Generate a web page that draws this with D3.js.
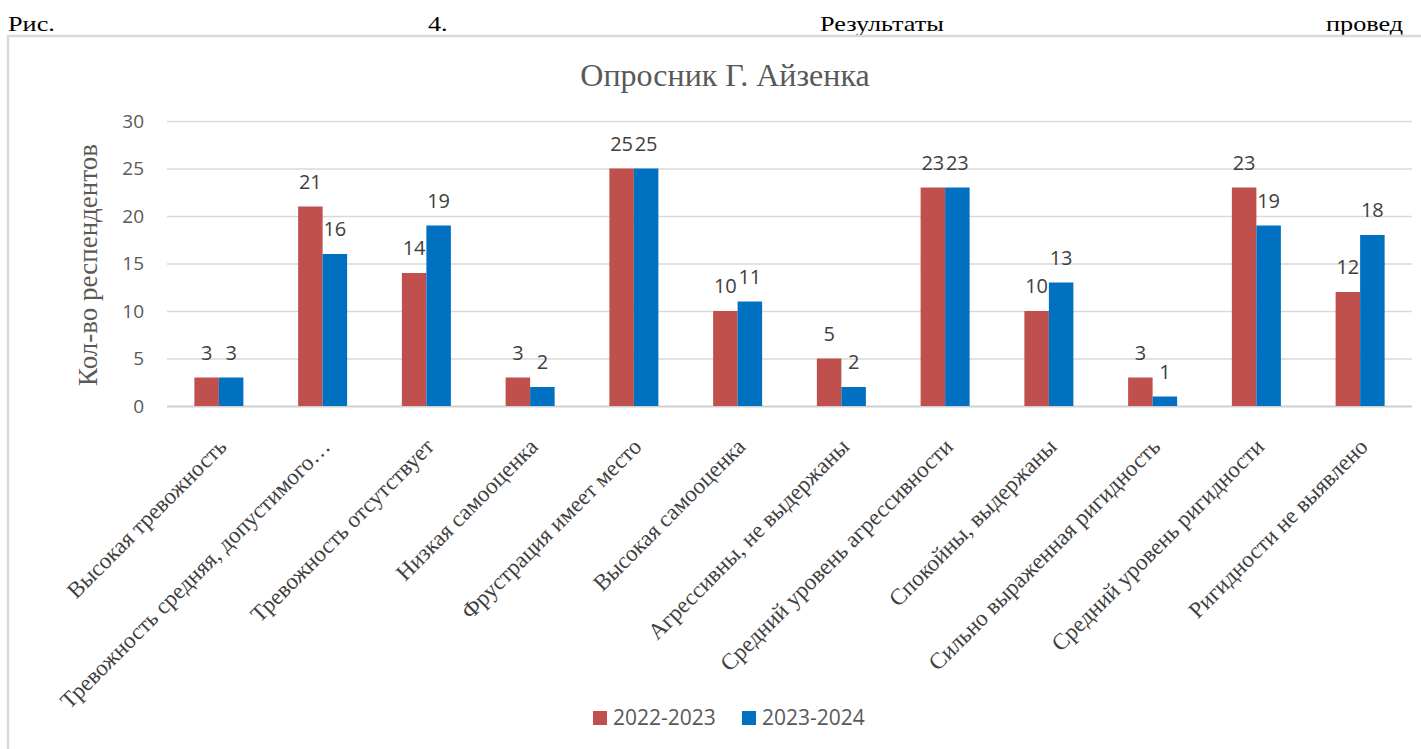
<!DOCTYPE html>
<html>
<head>
<meta charset="utf-8">
<script src="https://cdn.jsdelivr.net/npm/d3@7"></script>
<style>
  body { margin: 0; background: #fff; }
  svg { display: block; }
</style>
</head>
<body>
<script>
var categories = [
  'Высокая тревожность',
  'Тревожность средняя, допустимого…',
  'Тревожность отсутствует',
  'Низкая самооценка',
  'Фрустрация имеет место',
  'Высокая самооценка',
  'Агрессивны, не выдержаны',
  'Средний уровень агрессивности',
  'Спокойны, выдержаны',
  'Сильно выраженная ригидность',
  'Средний уровень ригидности',
  'Ригидности не выявлено'
];
var series = ['2022-2023', '2023-2024'];
var values2022 = [3, 21, 14, 3, 25, 10, 5, 23, 10, 3, 23, 12];
var values2023 = [3, 16, 19, 2, 25, 11, 2, 23, 13, 1, 19, 18];
var yTicks = [0, 5, 10, 15, 20, 25, 30];
var headerWords = ['Рис.', '4.', 'Результаты', 'провед'];

var colors = ['#C0504D', '#0070C0'];

var width = 1421,
    height = 749;

var svg = d3.select('body')
  .append('svg')
  .attr('width', width)
  .attr('height', height);

// header line of the document text (justified, slightly stretched)
var headerX = [8, 428, 820, 1326];
svg.selectAll('.hdr')
  .data(headerWords)
  .enter().append('text')
  .attr('transform', function(d, i) { return 'translate(' + headerX[i] + ',31) scale(1.25,1)'; })
  .style('font-family', '"Liberation Serif", serif')
  .style('font-size', '21px')
  .attr('fill', '#000')
  .text(function(d) { return d; });

// chart frame (only top and left edges are visible)
svg.append('line')
  .attr('x1', 7).attr('x2', width)
  .attr('y1', 36).attr('y2', 36)
  .attr('stroke', '#d9d9d9').attr('stroke-width', 2.5);
svg.append('line')
  .attr('x1', 8).attr('x2', 8)
  .attr('y1', 36).attr('y2', height)
  .attr('stroke', '#d9d9d9').attr('stroke-width', 2.5);

var plot = { left: 167, right: 1412, top: 121, bottom: 406 };

var x = d3.scaleBand()
  .domain(categories)
  .range([plot.left, plot.right]);

var x1 = d3.scaleBand()
  .domain(series)
  .range([0, 49]);

var y = d3.scaleLinear()
  .domain([0, 30])
  .range([plot.bottom, plot.top]);

// title
svg.append('text')
  .attr('x', 725)
  .attr('y', 86)
  .attr('text-anchor', 'middle')
  .style('font-family', '"Liberation Serif", serif')
  .style('font-size', '32px')
  .attr('fill', '#595959')
  .text('Опросник Г. Айзенка');

// y axis
var yAxis = d3.axisLeft(y)
  .tickValues(yTicks)
  .tickSize(-(plot.right - plot.left))
  .tickPadding(23);

var gy = svg.append('g')
  .attr('transform', 'translate(' + plot.left + ',0)')
  .call(yAxis);
gy.select('.domain').remove();
gy.selectAll('.tick line')
  .attr('stroke', function(d) { return d === 0 ? '#d0d0d0' : '#d9d9d9'; })
  .attr('stroke-width', function(d) { return d === 0 ? 2 : 1.5; });
gy.selectAll('.tick text')
  .style('font-family', '"Open Sans", sans-serif')
  .style('font-size', '19px')
  .attr('fill', '#595959');

svg.append('text')
  .attr('transform', 'translate(97,265) rotate(-90)')
  .attr('text-anchor', 'middle')
  .style('font-family', '"Liberation Serif", serif')
  .style('font-size', '27px')
  .attr('fill', '#595959')
  .text('Кол-во респендентов');

// bars
var rows = categories.map(function(c, i) {
  return { cat: c, vals: [values2022[i], values2023[i]] };
});

var groups = svg.selectAll('.grp')
  .data(rows)
  .enter().append('g')
  .attr('transform', function(d) {
    return 'translate(' + (x(d.cat) + x.bandwidth() / 2 - 24.5) + ',0)';
  });

groups.selectAll('rect')
  .data(function(d) { return d.vals.map(function(v, j) { return { s: series[j], v: v, j: j }; }); })
  .enter().append('rect')
  .attr('x', function(d) { return x1(d.s); })
  .attr('width', x1.bandwidth())
  .attr('y', function(d) { return y(d.v); })
  .attr('height', function(d) { return plot.bottom - y(d.v); })
  .attr('fill', function(d) { return colors[d.j]; });

groups.selectAll('.lbl')
  .data(function(d) { return d.vals.map(function(v, j) { return { s: series[j], v: v }; }); })
  .enter().append('text')
  .attr('x', function(d) { return x1(d.s) + x1.bandwidth() / 2; })
  .attr('y', function(d) { return y(d.v) - 18; })
  .attr('text-anchor', 'middle')
  .style('font-family', '"Open Sans", sans-serif')
  .style('font-size', '20px')
  .attr('fill', '#404040')
  .text(function(d) { return d.v; });

// category labels
svg.selectAll('.cat')
  .data(categories)
  .enter().append('text')
  .attr('transform', function(d) {
    return 'translate(' + (x(d) + x.bandwidth() / 2 + 9) + ',448) rotate(-45)';
  })
  .attr('text-anchor', 'end')
  .style('font-family', '"Liberation Serif", serif')
  .style('font-size', '23px')
  .attr('fill', '#404040')
  .text(function(d) { return d; });

// legend
var legendX = [593, 742];
var legend = svg.selectAll('.leg')
  .data(series)
  .enter().append('g')
  .attr('transform', function(d, i) { return 'translate(' + legendX[i] + ',711)'; });
legend.append('rect')
  .attr('width', 14).attr('height', 14)
  .attr('fill', function(d, i) { return colors[i]; });
legend.append('text')
  .attr('x', 20)
  .attr('y', 14)
  .style('font-family', '"Open Sans", sans-serif')
  .style('font-size', '21px')
  .attr('fill', '#595959')
  .text(function(d) { return d; });
</script>
</body>
</html>
